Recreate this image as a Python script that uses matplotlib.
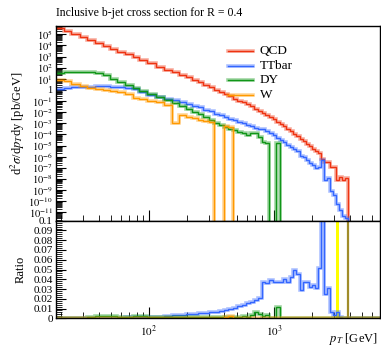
import numpy as np
import matplotlib
matplotlib.use("Agg")
import matplotlib.pyplot as plt
from matplotlib.ticker import LogLocator, FixedLocator, NullFormatter, FuncFormatter, MultipleLocator

plt.rcParams['font.family'] = ['Liberation Serif', 'DejaVu Serif']
plt.rcParams['mathtext.fontset'] = 'stix'

edges = [18, 21, 24, 28, 32, 37, 43, 49, 56, 64, 74, 84, 97, 114, 133, 153, 174, 196, 220, 245,
         272, 300, 330, 362, 395, 430, 468, 507, 548, 592, 638, 686, 737, 790, 846, 905, 967, 1032,
         1101, 1172, 1248, 1327, 1410, 1497, 1588, 1684, 1784, 1890, 2000, 2116, 2238, 2366, 2500,
         2640, 2787, 2941, 3103, 3273, 3450, 3637, 3832, 4037, 4252, 4477, 4713, 4961, 5220, 5492,
         5777, 6076, 6389, 6717, 7000]

# log10 of cross sections [pb/GeV]; None = empty bin
qcd_log = [5.54, 5.27, 5.00, 4.74, 4.48, 4.20, 3.94, 3.70, 3.45, 3.19, 2.93, 2.68, 2.40, 2.10, 1.83,
           1.58, 1.35, 1.13, 0.92, 0.72, 0.48, 0.26, 0.04, -0.17, -0.37, -0.57, -0.77, -0.95, -1.12,
           -1.30, -1.48, -1.67, -1.86, -2.05, -2.25, -2.45, -2.65, -2.85, -3.06, -3.28, -3.50, -3.72,
           -3.95, -4.18, -4.40, -4.62, -4.84, -5.06, -5.27, -5.47, -5.66, -6.20, -6.44, -6.44, -6.89,
           -6.89, -8.08, -7.78, -8.08, -7.93, None, None, None, None, None, None, None, None, None,
           None, None, None]
ttbar_log = [0.08, 0.15, 0.22, 0.27, 0.30, 0.32, 0.32, 0.30, 0.25, 0.18, 0.05, -0.15, -0.45,
             -0.65, -0.77, -0.94, -1.08, -1.25, -1.40, -1.56, -1.76, -1.93, -2.12, -2.28, -2.43,
             -2.58, -2.73, -2.85, -2.97, -3.11, -3.25, -3.39, -3.54, -3.48, -3.69, -3.86, -4.08,
             -4.28, -4.49, -4.67, -4.93, -5.09, -5.26, -5.52, -5.94, -6.05, -6.27, -6.56, -6.74,
             -6.98, -6.95, -6.30, -8.05, -7.95, -9.10, -9.40, -10.25, -10.80, -11.30, -11.50, None,
             None, None, None, None, None, None, None, None, None, None, None]
dy_log = [1.55, 1.57, 1.58, 1.59, 1.58, 1.55, 1.35, 1.00, 0.70, 0.45, 0.20, -0.05, -0.35, -0.65,
          -0.92, -1.18, -1.42, -1.68, -1.95, -2.20, -2.45, -2.70, -2.93, -3.15, -3.35, -3.50,
          -3.62, -3.74, -3.85, -4.04, -3.89, -3.84, -4.25, -4.64, -4.73, None, None, -4.80,
          None, None, None, None, None, None, None, None, None, None, None, None, None, None,
          None, None, None, None, None, None, None, None, None, None, None, None, None, None,
          None, None, None, None, None, None]
w_log = [0.90, 0.80, 0.55, 0.35, 0.20, 0.10, 0.00, -0.10, -0.20, -0.35, -0.75, -0.85, -0.95,
         -1.10, -1.35, -3.00, -2.24, -2.40, -2.55, -2.70, -2.78, -2.85, None, None, -3.20, -3.30,
         None, None, None, None, None, None, None, None, None, None, None, None, None, None, None,
         None, None, None, None, None, None, None, None, None, None, None, None, None, None, None,
         None, None, None, None, None, None, None, None, None, None, None, None, None, None, None,
         None]

names = ['QCD', 'TTbar', 'DY', 'W']
colors = ['#ee3311', '#3366ff', '#109618', '#ff9900']

FLOOR = 1e-30
def to_vals(lst):
    return np.array([FLOOR if v is None else 10.0 ** v for v in lst])

series = [to_vals(qcd_log), to_vals(ttbar_log), to_vals(dy_log), to_vals(w_log)]
e = np.array(edges, dtype=float)

fig = plt.figure(figsize=(3.81, 3.48), dpi=100)
W_, H_ = 381.0, 348.0
l, r = 55.5 / W_, 380.4 / W_
ax = fig.add_axes([l, 1 - 220.7 / H_, r - l, (220.7 - 25.7) / H_])
axr = fig.add_axes([l, 1 - 318.3 / H_, r - l, (318.3 - 220.7) / H_], sharex=ax)

def stepline(a, vals, color):
    y = np.append(vals, vals[-1])
    a.plot(e, y, drawstyle='steps-post', color=color, lw=2.6, alpha=0.4, solid_joinstyle='miter')
    a.plot(e, y, drawstyle='steps-post', color=color, lw=1.0, solid_joinstyle='miter')

for vals, c in zip(series, colors):
    stepline(ax, vals, c)

ax.set_xscale('log')
ax.set_yscale('log')
ax.set_xlim(18, 7000)
ax.set_ylim(1.8e-12, 5.9e5)

# legend
leg_y = [0.870, 0.795, 0.722, 0.647]
for yy, n, c in zip(leg_y, names, colors):
    ax.plot([0.531, 0.608], [yy, yy], transform=ax.transAxes, color=c, lw=2.6, alpha=0.4)
    ax.plot([0.531, 0.608], [yy, yy], transform=ax.transAxes, color=c, lw=1.0)
    ax.text(0.629, yy, n, transform=ax.transAxes, va='center', ha='left', fontsize=9.5)

def ylogfmt(v, pos):
    ex = int(round(np.log10(v)))
    if ex == 0:
        return '1'
    return r'$10^{%d}$' % ex

ax.yaxis.set_major_locator(FixedLocator([10.0 ** k for k in range(-11, 6)]))
ax.yaxis.set_major_formatter(FuncFormatter(ylogfmt))
ax.yaxis.set_minor_locator(LogLocator(base=10, subs=np.arange(2, 10), numticks=100))
ax.yaxis.set_minor_formatter(NullFormatter())
ax.tick_params(axis='both', which='both', direction='in', top=False, right=False, labelsize=7.5, pad=2)
ax.tick_params(axis='y', which='major', length=7, width=0.8)
ax.tick_params(axis='y', which='minor', length=4, width=0.6)
ax.tick_params(axis='x', which='major', length=8, width=0.8)
ax.tick_params(axis='x', which='minor', length=4, width=0.6)
ax.tick_params(axis='x', labelbottom=False)
ax.set_ylabel(r'd$^2\sigma$/d$p_T$dy [pb/GeV]', fontsize=9, labelpad=1)
ax.text(0.0, 1.035, 'Inclusive b-jet cross section for R = 0.4', transform=ax.transAxes,
        fontsize=8.5, ha='left', va='bottom')

# ratio panel
q = series[0]
for vals, c in zip(series[1:], colors[1:]):
    rat = np.where(q > FLOOR, vals / q, 0.0)
    stepline(axr, rat, c)
axr.axvspan(3103, 3273, color='#ffff00', lw=0)
axr.axvline(3832, color='#a08c2a', lw=1.6)
axr.set_ylim(0, 0.1)
axr.yaxis.set_major_locator(MultipleLocator(0.01))
axr.yaxis.set_minor_locator(MultipleLocator(0.002))
axr.yaxis.set_major_formatter(FuncFormatter(lambda v, p: '0' if abs(v) < 1e-9 else ('%.2f' % v).rstrip('0')))
axr.tick_params(axis='both', which='both', direction='in', top=False, right=False, labelsize=8, pad=2)
axr.tick_params(axis='y', which='major', length=7, width=0.8)
axr.tick_params(axis='y', which='minor', length=4, width=0.6)
axr.tick_params(axis='x', which='major', length=8, width=0.8)
axr.tick_params(axis='x', which='minor', length=4, width=0.6)
axr.tick_params(axis='x', pad=4)
axr.xaxis.set_major_formatter(FuncFormatter(lambda v, p: r'$10^{%d}$' % int(round(np.log10(v)))))
axr.set_ylabel('Ratio', fontsize=9, labelpad=5)
fig.text(378 / W_, 1 - 339 / H_, r'$p_T$ [GeV]', fontsize=9, ha='right', va='center')

for a in (ax, axr):
    for s in a.spines.values():
        s.set_linewidth(1.0)

fig.savefig('out.png', dpi=100)
